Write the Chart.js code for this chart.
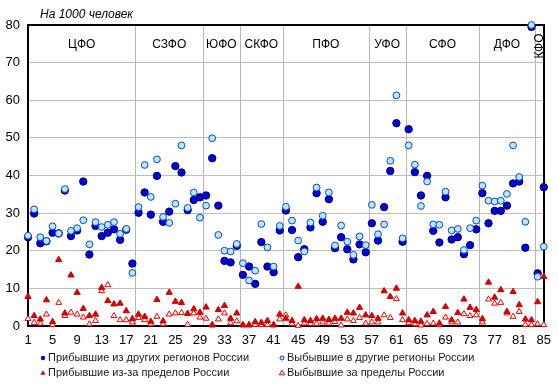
<!DOCTYPE html>
<html><head><meta charset="utf-8">
<script src="https://cdn.jsdelivr.net/npm/chart.js@4.4.1/dist/chart.umd.min.js"></script>
<style>html,body{margin:0;padding:0;background:#fff}#wrap{width:558px;height:387px;position:relative}</style>
</head><body><div id="wrap"><canvas id="c" width="558" height="387"></canvas></div>
<script>
// Region numbers (categories)
const regions = [1,2,3,4,5,6,7,8,9,10,11,12,13,14,15,16,17,18,19,20,21,22,23,24,25,26,27,28,29,30,31,32,33,34,35,36,37,38,39,40,41,42,43,44,45,46,47,48,49,50,51,52,53,54,55,56,57,58,59,60,61,62,63,64,65,66,67,68,69,70,71,72,73,74,75,76,77,78,79,80,81,82,83,84,85];

// Прибывшие из других регионов России
const arrivalsDomestic = [23.6,29.9,22.0,22.5,24.8,24.6,36.0,23.9,25.4,38.4,19.0,26.6,23.9,24.8,25.7,22.9,25.6,16.6,30.1,35.5,29.6,39.9,27.7,30.4,42.5,40.8,30.8,33.5,34.2,34.7,44.6,32.0,17.3,16.9,21.3,13.6,15.8,11.2,22.3,15.8,14.3,25.4,30.7,25.5,18.3,20.4,26.2,35.3,27.7,33.7,20.7,23.6,20.4,17.7,21.7,19.6,27.3,22.7,31.6,41.2,53.9,22.4,52.3,40.9,34.7,39.9,25.3,22.2,34.2,23.0,23.6,19.1,21.5,25.7,35.3,27.3,30.6,30.6,32.0,37.9,38.4,20.8,79.5,14.0,36.9];

// Выбывшие в другие регионы России
const departuresDomestic = [24.0,31.0,23.6,22.6,26.5,24.6,36.4,25.3,26.0,28.1,21.7,27.6,26.3,26.9,27.6,24.5,25.8,14.1,31.6,42.8,34.3,44.3,29.0,27.4,32.5,48.0,31.4,35.5,28.8,32.0,49.9,24.2,20.0,19.8,21.8,16.7,12.1,14.7,27.1,20.9,15.8,26.6,31.7,28.0,22.7,19.8,27.5,36.8,29.3,35.5,21.4,26.7,22.4,18.9,23.8,21.5,32.2,24.4,27.0,43.9,61.3,23.3,48.0,42.9,31.9,38.4,27.0,26.9,35.7,25.4,25.8,20.2,26.0,28.0,37.3,33.3,33.1,33.3,35.1,48.0,39.6,27.7,80.0,13.1,21.1];

// Прибывшие из-за пределов России
const arrivalsAbroad = [7.8,2.7,1.8,6.9,1.1,17.6,3.4,13.5,8.9,4.6,2.7,3.1,10.2,6.7,5.8,6.0,4.0,1.9,3.1,2.5,1.2,7.0,1.3,8.9,6.5,6.2,3.3,4.5,3.6,5.0,0.3,4.3,5.4,2.0,3.4,0.3,0.3,1.1,0.9,1.4,0.3,3.1,2.0,1.4,10.5,1.6,1.4,1.9,2.0,1.7,2.0,2.0,3.6,3.4,4.9,2.9,2.7,2.0,9.3,7.8,10.0,3.4,1.6,1.4,1.2,2.9,3.8,0.7,5.1,1.6,3.5,7.1,4.9,4.3,1.9,11.6,7.6,9.6,3.8,9.1,5.6,1.8,1.6,6.4,13.1];

// Выбывшие за пределы России
const departuresAbroad = [1.9,0.9,0.7,3.1,0.3,6.2,2.7,3.6,3.1,2.3,0.5,1.4,9.3,10.9,2.7,1.6,1.6,1.0,2.2,1.6,0.5,2.5,0.5,3.1,3.4,3.5,0.4,3.4,2.3,2.0,0.2,1.8,3.4,0.8,1.3,0.2,0.2,0.3,0.3,0.3,0.2,1.8,2.9,0.6,0.1,0.7,0.6,0.6,1.0,0.7,1.1,0.2,1.8,1.4,2.2,0.7,1.0,1.0,2.9,2.2,7.2,1.6,0.8,0.5,0.2,0.6,0.7,0.3,2.3,1.0,1.0,3.2,2.7,2.9,1.0,7.1,6.0,6.2,3.4,2.5,3.8,0.3,0.3,0.5,0.3];

// Tick labels
const xTicks = [1,5,9,13,17,21,25,29,33,37,41,45,49,53,57,61,65,69,73,77,81,85];
const yTicks = [0,10,20,30,40,50,60,70,80];

// Federal districts and boundaries between them (in region-number units)
const districts = ['ЦФО','СЗФО','ЮФО','СКФО','ПФО','УФО','СФО','ДФО','КФО'];
const districtBounds = [0.5,18.5,29.5,35.5,42.5,56.5,62.5,74.5,83.5,85.5];

const seriesNames = ['Прибывшие из других регионов России','Выбывшие в другие регионы России','Прибывшие из-за пределов России','Выбывшие за пределы России'];
const titleText = 'На 1000 человек';

const FONT = '"Liberation Sans", Arial, sans-serif';
const toPts = arr => arr.map((v,i)=>({x:regions[i], y:v}));

const deco = {
  id:'deco',
  beforeDatasetsDraw(chart){
    const {ctx, chartArea:a, scales:{x}} = chart;
    ctx.save();
    ctx.strokeStyle='#b8b8b8'; ctx.lineWidth=1;
    districtBounds.slice(1,-1).forEach(b=>{
      const px=Math.round(x.getPixelForValue(b))+0.5;
      ctx.beginPath(); ctx.moveTo(px,a.top); ctx.lineTo(px,a.bottom); ctx.stroke();
    });
    ctx.strokeStyle='#000'; ctx.lineWidth=2;
    ctx.strokeRect(Math.round(a.left), Math.round(a.top), Math.round(a.width), Math.round(a.height));
    // district labels
    ctx.fillStyle='#000'; ctx.font='12px '+FONT; ctx.textAlign='center'; ctx.textBaseline='middle';
    districts.forEach((d,i)=>{
      const lo=Math.max(districtBounds[i],1), hi=Math.min(districtBounds[i+1],85);
      const cx=x.getPixelForValue((lo+hi)/2);
      if(i===districts.length-1){
        ctx.save(); ctx.translate(cx+1, a.top+21); ctx.rotate(-Math.PI/2); ctx.fillText(d,0,0); ctx.restore();
      } else {
        ctx.fillText(d,cx,a.top+20);
      }
    });
    ctx.restore();
  },
  afterDraw(chart){
    const {ctx} = chart;
    ctx.save();
    ctx.fillStyle='#000'; ctx.font='italic 12px '+FONT; ctx.textAlign='left'; ctx.textBaseline='middle';
    ctx.fillText(titleText, 40, 15);
    // legend
    ctx.font='11px '+FONT; ctx.fillStyle='#1a1a1a';
    const pos=[[43,358],[282,358],[43,373],[282,373]];
    pos.forEach((p,i)=>{
      const [mx,my]=p;
      ctx.lineWidth=1;
      if(i===0){ctx.fillStyle='#0000e6';ctx.beginPath();ctx.arc(mx,my,2.2,0,Math.PI*2);ctx.fill();}
      if(i===1){ctx.fillStyle='#b0ecff';ctx.strokeStyle='#1a3ccc';ctx.beginPath();ctx.arc(mx,my,2,0,Math.PI*2);ctx.fill();ctx.stroke();}
      if(i>=2){ctx.beginPath();ctx.moveTo(mx,my-2.8);ctx.lineTo(mx+2.6,my+1.8);ctx.lineTo(mx-2.6,my+1.8);ctx.closePath();
        if(i===2){ctx.fillStyle='#dd0000';ctx.fill();} else {ctx.fillStyle='#fff';ctx.fill();ctx.strokeStyle='#dd0000';ctx.stroke();}}
      ctx.fillStyle='#1a1a1a';
      ctx.fillText(seriesNames[i], mx+5, my);
    });
    ctx.restore();
  }
};

new Chart(document.getElementById('c'), {
  type:'scatter',
  data:{datasets:[
    {label:seriesNames[1], data:toPts(departuresDomestic), pointStyle:'circle', pointRadius:3.4, borderWidth:1, backgroundColor:'#b0ecff', borderColor:'#1a3ccc', clip:false, order:2},
    {label:seriesNames[0], data:toPts(arrivalsDomestic), pointStyle:'circle', pointRadius:3.7, borderWidth:1, backgroundColor:'#0000e6', borderColor:'#00004a', clip:false, order:3},
    {label:seriesNames[2], data:toPts(arrivalsAbroad), pointStyle:'triangle', pointRadius:3.6, borderWidth:1, backgroundColor:'#dd0000', borderColor:'#cc0000', clip:false, order:0},
    {label:seriesNames[3], data:toPts(departuresAbroad), pointStyle:'triangle', pointRadius:3.4, borderWidth:1, backgroundColor:'#ffffff', borderColor:'#ee0000', clip:false, order:1}
  ]},
  options:{
    responsive:false, animation:false, events:[],
    layout:{padding:{top:25,right:10,left:0,bottom:0}},
    plugins:{legend:{display:false}, tooltip:{enabled:false}, title:{display:false}},
    scales:{
      x:{type:'linear', min:1, max:85,
        afterBuildTicks:s=>{s.ticks=xTicks.map(v=>({value:v}));},
        grid:{display:false, drawTicks:false}, border:{display:false},
        ticks:{color:'#000', font:{size:13, family:FONT}, padding:7, maxRotation:0, autoSkip:false},
        afterFit:s=>{s.height=61;}},
      y:{min:0, max:80,
        afterBuildTicks:s=>{s.ticks=yTicks.map(v=>({value:v}));},
        grid:{color:'#bdbdbd', drawTicks:false, lineWidth:1}, border:{display:false},
        ticks:{color:'#000', font:{size:13, family:FONT}, padding:8},
        afterFit:s=>{s.width=28;}}
    }
  },
  plugins:[deco]
});
</script></body></html>
